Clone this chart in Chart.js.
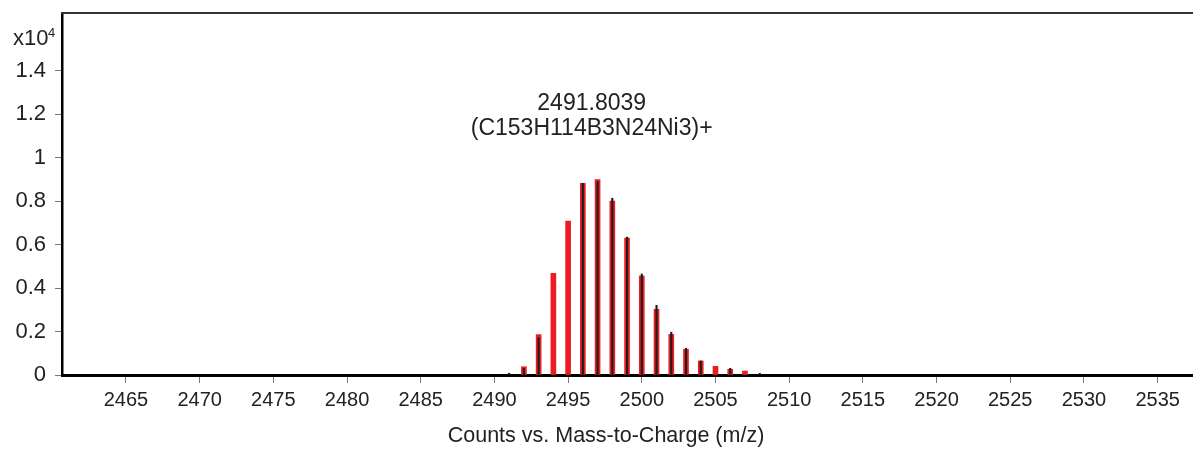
<!DOCTYPE html>
<html>
<head>
<meta charset="utf-8">
<script src="https://cdn.jsdelivr.net/npm/chart.js@4"></script>
<style>
  body { margin: 0; background: #fff; }
  canvas { display: block; }
</style>
</head>
<body>
<canvas id="spectrumChart" width="1193" height="449"></canvas>
<script>
// isotope peaks, m/z
const predictedMz = [2492, 2493, 2494, 2495, 2496, 2497, 2498, 2499, 2500, 2501, 2502, 2503, 2504, 2505, 2506, 2507];
const predictedCounts = [380, 1860, 4680, 7090, 8830, 9000, 8010, 6310, 4560, 3030, 1870, 1180, 645, 400, 263, 184];

const measuredMz = [2491, 2492, 2493, 2496, 2497, 2498, 2499, 2500, 2501, 2502, 2503, 2504, 2506, 2508];
const measuredCounts = [80, 310, 1720, 8830, 8900, 8140, 6350, 4650, 3210, 1970, 1230, 650, 310, 80];

const xTicks = [2465, 2470, 2475, 2480, 2485, 2490, 2495, 2500, 2505, 2510, 2515, 2520, 2525, 2530, 2535];
const yTicks = [0, 2000, 4000, 6000, 8000, 10000, 12000, 14000];
const yTickLabels = ["0", "0.2", "0.4", "0.6", "0.8", "1", "1.2", "1.4"];

const peakLabel = ["2491.8039", "(C153H114B3N24Ni3)+"];
const peakLabelPos = { x: 2496.6, y: 12200 };
const xTitle = "Counts vs. Mass-to-Charge (m/z)";

const FONT = "'Liberation Sans', Arial, sans-serif";
const ctx = document.getElementById("spectrumChart").getContext("2d");

const decorations = {
  id: "decorations",
  afterDraw(chart) {
    const c = chart.ctx;
    const area = chart.chartArea;
    const xs = chart.scales.x;
    const ys = chart.scales.y;
    c.save();
    // top frame line
    c.strokeStyle = "#333";
    c.lineWidth = 2;
    c.beginPath();
    c.moveTo(area.left - 1, area.top);
    c.lineTo(area.right, area.top);
    c.stroke();

    c.fillStyle = "#222";
    // x10^4 multiplier
    c.textAlign = "left";
    c.textBaseline = "alphabetic";
    c.font = "22px " + FONT;
    c.fillText("x10", 13, 45);
    c.font = "13px " + FONT;
    c.fillText("4", 48, 37);

    // peak annotation
    c.textAlign = "center";
    c.font = "23px " + FONT;
    const px = xs.getPixelForValue(peakLabelPos.x);
    const py = ys.getPixelForValue(peakLabelPos.y);
    c.fillText(peakLabel[0], px, py);
    c.fillText(peakLabel[1], px, py + 25);

    // x axis title
    c.font = "21.5px " + FONT;
    c.fillText(xTitle, 606, 442);
    c.restore();
  }
};

new Chart(ctx, {
  type: "bar",
  data: {
    datasets: [
      {
        label: "Measured",
        data: measuredMz.map((m, i) => ({ x: m, y: measuredCounts[i] })),
        backgroundColor: "#1e1e1e",
        barThickness: 1.5,
        grouped: false,
        order: 1,
      },
      {
        label: "Predicted",
        data: predictedMz.map((m, i) => ({ x: m, y: predictedCounts[i] })),
        backgroundColor: "#ec1c24",
        barThickness: 5,
        grouped: false,
        order: 2,
      },
    ],
  },
  options: {
    responsive: false,
    animation: false,
    layout: { padding: { top: 13, right: 0, left: 0, bottom: 0 } },
    plugins: {
      legend: { display: false },
      tooltip: { enabled: false },
    },
    scales: {
      x: {
        type: "linear",
        offset: false,
        min: 2460.66,
        max: 2537.4,
        afterBuildTicks: (s) => { s.ticks = xTicks.map((v) => ({ value: v })); },
        afterFit: (s) => { s.height = 74; s.paddingLeft = 0; s.paddingRight = 0; },
        grid: { offset: false, drawOnChartArea: false, tickLength: 8, color: "#777" },
        border: { color: "#000", width: 3 },
        ticks: {
          color: "#222",
          font: { family: FONT, size: 20 },
          padding: 5,
          maxRotation: 0,
          autoSkip: false,
          callback: (v) => String(v),
        },
      },
      y: {
        min: 0,
        max: 16670,
        afterBuildTicks: (s) => { s.ticks = yTicks.map((v) => ({ value: v })); },
        afterFit: (s) => { s.width = 62; s.paddingTop = 0; s.paddingBottom = 0; },
        grid: { drawOnChartArea: false, tickLength: 7, color: "#777" },
        border: { color: "#000", width: 2.5 },
        ticks: {
          color: "#222",
          font: { family: FONT, size: 22 },
          padding: 9,
          callback: (v) => yTickLabels[yTicks.indexOf(v)],
        },
      },
    },
  },
  plugins: [decorations],
});
</script>
</body>
</html>
